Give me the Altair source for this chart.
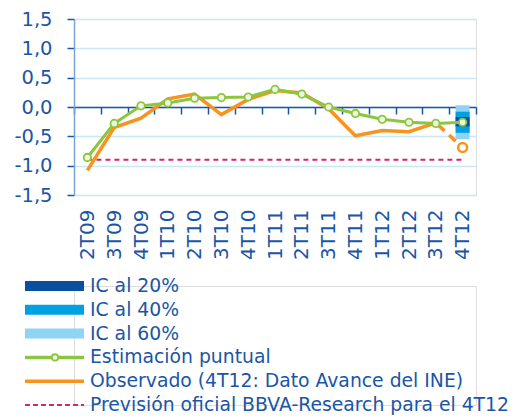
import altair as alt
import pandas as pd

cats = ["2T09", "3T09", "4T09", "1T10", "2T10", "3T10", "4T10", "1T11",
        "2T11", "3T11", "4T11", "1T12", "2T12", "3T12", "4T12"]
estimacion = [-0.86, -0.28, 0.02, 0.07, 0.15, 0.16, 0.17, 0.30, 0.22, 0.00,
              -0.11, -0.21, -0.26, -0.28, -0.26]
observado = [-1.08, -0.35, -0.19, 0.14, 0.22, -0.13, 0.13, 0.28, 0.24, -0.03,
             -0.49, -0.40, -0.42, -0.27]
avance_cat = "4T12"
avance_val = -0.69
prevision = -0.90
ic_levels = ["IC al 60%", "IC al 40%", "IC al 20%"]
ic_hi = [0.03, -0.08, -0.17]
ic_lo = [-0.55, -0.44, -0.33]
y_ticks = [-1.5, -1.0, -0.5, 0.0, 0.5, 1.0, 1.5]

legend_labels = ["IC al 20%", "IC al 40%", "IC al 60%", "Estimación puntual",
                 "Observado (4T12: Dato Avance del INE)",
                 "Previsión oficial BBVA-Research para el 4T12"]

DARK = "#1a56a5"
C20 = "#0b4f9f"
C40 = "#00a0e2"
C60 = "#8dd4f5"
GREEN = "#8cc63f"
ORANGE = "#f7931e"
PINK = "#d6246e"
GRID = "#c9e8f7"
YDOM = "#7aa5d6"
FONT = "DejaVu Sans"

W, H = 402, 176

color_scale = alt.Scale(domain=legend_labels, range=[C20, C40, C60, GREEN, ORANGE, PINK])

xscale = alt.Scale(type="band", domain=cats, paddingInner=0, paddingOuter=0)
xaxis = alt.Axis(orient="bottom", offset=-88, title=None, grid=False,
                 domainColor=DARK, domainWidth=1.5, tickColor=DARK,
                 tickWidth=1.5, tickSize=7, tickBand="extent",
                 labelAngle=270, labelPadding=95, labelColor=DARK,
                 labelFont=FONT, labelFontSize=20, labelOverlap=False)
yscale = alt.Scale(domain=[-1.5, 1.5], nice=False, zero=False)
yaxis = alt.Axis(values=y_ticks, title=None, grid=True, gridColor=GRID, gridWidth=1.5,
                 domainColor=YDOM, domainWidth=1.5, tickColor=DARK, tickWidth=1.5,
                 tickSize=7, labelPadding=15, labelColor=DARK, labelFont=FONT,
                 labelFontSize=19.5, labelOverlap=False, labelSeparation=0,
                 labelExpr="replace(replace(format(datum.value, '.1f'), '.', ','), '\u2212', '-')")


def X(field="cat:N"):
    return alt.X(field, sort=cats, scale=xscale, axis=xaxis)


def Y(field="v:Q"):
    return alt.Y(field, scale=yscale, axis=yaxis)


est_df = pd.DataFrame({"cat": cats, "v": estimacion})
obs_df = pd.DataFrame({"cat": cats[:len(observado)], "v": observado})
dash_df = pd.DataFrame({"cat": [cats[len(observado) - 1], avance_cat],
                        "v": [observado[-1], avance_val]})
av_df = pd.DataFrame({"cat": [avance_cat], "v": [avance_val]})
ic_df = pd.DataFrame({"cat": [avance_cat] * 3, "lvl": ic_levels, "hi": ic_hi, "lo": ic_lo})
prev_df = pd.DataFrame({"c1": [cats[0]], "c2": [cats[-1]], "v": [prevision]})

prev_layer = alt.Chart(prev_df).mark_rule(color=PINK, strokeWidth=2, strokeDash=[5, 4]).encode(
    x=X("c1:N"), x2="c2:N", y=Y("v:Q"))

ic_layer = alt.Chart(ic_df).mark_bar(size=14).encode(
    x=X(), y=Y("hi:Q"), y2="lo:Q",
    color=alt.Color("lvl:N", scale=color_scale, legend=None),
    order=alt.Order("hi:Q", sort="descending"))

obs_layer = alt.Chart(obs_df).mark_line(color=ORANGE, strokeWidth=3.5).encode(x=X(), y=Y())
dash_layer = alt.Chart(dash_df).mark_line(color=ORANGE, strokeWidth=3.5,
                                          strokeDash=[9, 6], strokeDashOffset=-3).encode(
    x=X(), y=Y())
av_layer = alt.Chart(av_df).mark_point(shape="circle", size=80, filled=True, fill="white",
                                       stroke=ORANGE, strokeWidth=2.5, opacity=1).encode(
    x=X(), y=Y())
est_line = alt.Chart(est_df).mark_line(color=GREEN, strokeWidth=3).encode(x=X(), y=Y())
est_pts = alt.Chart(est_df).mark_point(shape="circle", size=55, filled=True, fill="#eef7e2",
                                       stroke=GREEN, strokeWidth=1.8, opacity=1).encode(
    x=X(), y=Y())

main = alt.layer(prev_layer, ic_layer, obs_layer, dash_layer, av_layer,
                 est_line, est_pts).properties(width=W, height=H)

# legend
leg_df = pd.DataFrame({"label": legend_labels})
ly = alt.Y("label:N", sort=legend_labels,
           scale=alt.Scale(type="point", domain=legend_labels, padding=0), axis=None)
lx_scale = alt.Scale(domain=[0, W])
lcolor = alt.Color("label:N", scale=color_scale, legend=None)

bars_leg = alt.Chart(leg_df).transform_filter(
    alt.FieldOneOfPredicate(field="label", oneOf=legend_labels[:3])
).mark_rule(strokeWidth=10).encode(
    x=alt.datum(-49, scale=lx_scale, axis=None), x2=alt.datum(10), y=ly, color=lcolor)
lines_leg = alt.Chart(leg_df).transform_filter(
    alt.FieldOneOfPredicate(field="label", oneOf=legend_labels[3:5])
).mark_rule(strokeWidth=3.5).encode(
    x=alt.datum(-49, scale=lx_scale, axis=None), x2=alt.datum(10), y=ly, color=lcolor)
dash_leg = alt.Chart(leg_df).transform_filter(
    alt.FieldEqualPredicate(field="label", equal=legend_labels[5])
).mark_rule(strokeWidth=2, strokeDash=[5, 3]).encode(
    x=alt.datum(-49, scale=lx_scale, axis=None), x2=alt.datum(10), y=ly, color=lcolor)
pt_leg = alt.Chart(leg_df).transform_filter(
    alt.FieldEqualPredicate(field="label", equal=legend_labels[3])
).mark_point(shape="circle", size=40, filled=True, fill="#eef7e2", stroke=GREEN,
             strokeWidth=1.8, opacity=1).encode(
    x=alt.datum(-19, scale=lx_scale, axis=None), y=ly)
text_leg = alt.Chart(leg_df).mark_text(align="left", baseline="middle", font=FONT,
                                       fontSize=18.8, color=DARK).encode(
    x=alt.datum(16, scale=lx_scale, axis=None), y=ly, text="label:N")

legend = alt.layer(bars_leg, lines_leg, dash_leg, pt_leg, text_leg).properties(
    width=W, height=119)

chart = alt.vconcat(main, legend, spacing=91, bounds="flush").configure_view(
    stroke=None).configure(padding={"left": 5, "top": 0, "right": 5, "bottom": 0})

chart.save("out.html", embed_options={"renderer": "svg", "actions": False})
